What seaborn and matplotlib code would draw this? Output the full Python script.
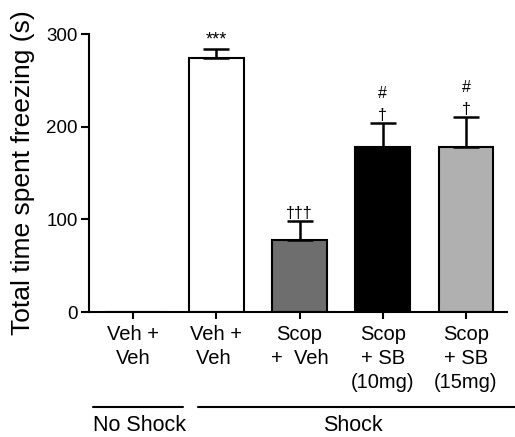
import matplotlib
matplotlib.use("Agg")
import matplotlib.pyplot as plt
import numpy as np
import pandas as pd
import seaborn as sns

# data
groups = ["Veh +\nVeh", "Veh +\nVeh ", "Scop\n+  Veh", "Scop\n+ SB\n(10mg)", "Scop\n+ SB\n(15mg)"]
freezing = [0, 274, 78, 178, 178]
sem = [0, 10, 20, 26, 32]
bar_colors = ["#ffffff", "#ffffff", "#6e6e6e", "#000000", "#b0b0b0"]
marks = ["", "***", "†††", "#\n†", "#\n†"]
group_names = ["No Shock", "Shock"]

sns.set_theme(style="ticks")
plt.rcParams["font.family"] = ["Liberation Sans", "DejaVu Sans"]
for key in ["text.color", "axes.labelcolor", "xtick.color", "ytick.color", "axes.edgecolor"]:
	plt.rcParams[key] = "black"

df = pd.DataFrame({"group": groups, "freezing": freezing})

fig = plt.figure(figsize=(5.15, 4.37), dpi=100)
ax = fig.add_axes([0.173, 0.286, 0.811, 0.636])

sns.barplot(
	data=df, x="group", y="freezing", hue="group", palette=bar_colors,
	edgecolor="black", linewidth=1.5, width=0.66, legend=False, ax=ax,
)

xs = np.arange(len(groups))
ax.errorbar(
	xs, freezing, yerr=[np.zeros(len(sem)), sem], fmt="none",
	ecolor="black", elinewidth=1.8, capsize=9.5, capthick=1.8, zorder=1,
)
for x, v, e, m in zip(xs, freezing, sem, marks):
	if m:
		size = 13 if m == "***" else 11.5
		ax.annotate(m, (x, v + e), xytext=(0, 0), textcoords="offset points",
			ha="center", va="bottom", fontsize=size, linespacing=1.6)

ax.set_ylim(0, 300)
ax.set_xlim(-0.53, 4.49)
ax.set_yticks([0, 100, 200, 300])
ax.set_ylabel("Total time spent freezing (s)", fontsize=19, labelpad=8)
ax.set_xlabel("")
ax.tick_params(axis="y", labelsize=13.5, length=6, width=1.5, direction="out", pad=2)
ax.tick_params(axis="x", labelsize=14.5, length=5, width=1.5, direction="out", pad=4)
for lbl in ax.get_xticklabels():
	lbl.set_linespacing(1.35)
sns.despine(ax=ax)
for side in ["left", "bottom"]:
	ax.spines[side].set_linewidth(1.5)
	ax.spines[side].set_color("black")

# group brackets under the axis
trans = ax.get_xaxis_transform()
ax.plot([-0.48, 0.6], [-0.342, -0.342], color="black", lw=1.5, transform=trans, clip_on=False)
ax.plot([0.78, 4.6], [-0.342, -0.342], color="black", lw=1.5, transform=trans, clip_on=False)
ax.text(0.08, -0.41, group_names[0], transform=trans, ha="center", va="center", fontsize=15.5)
ax.text(2.64, -0.41, group_names[1], transform=trans, ha="center", va="center", fontsize=15.5)

fig.savefig("out.png", dpi=100)
